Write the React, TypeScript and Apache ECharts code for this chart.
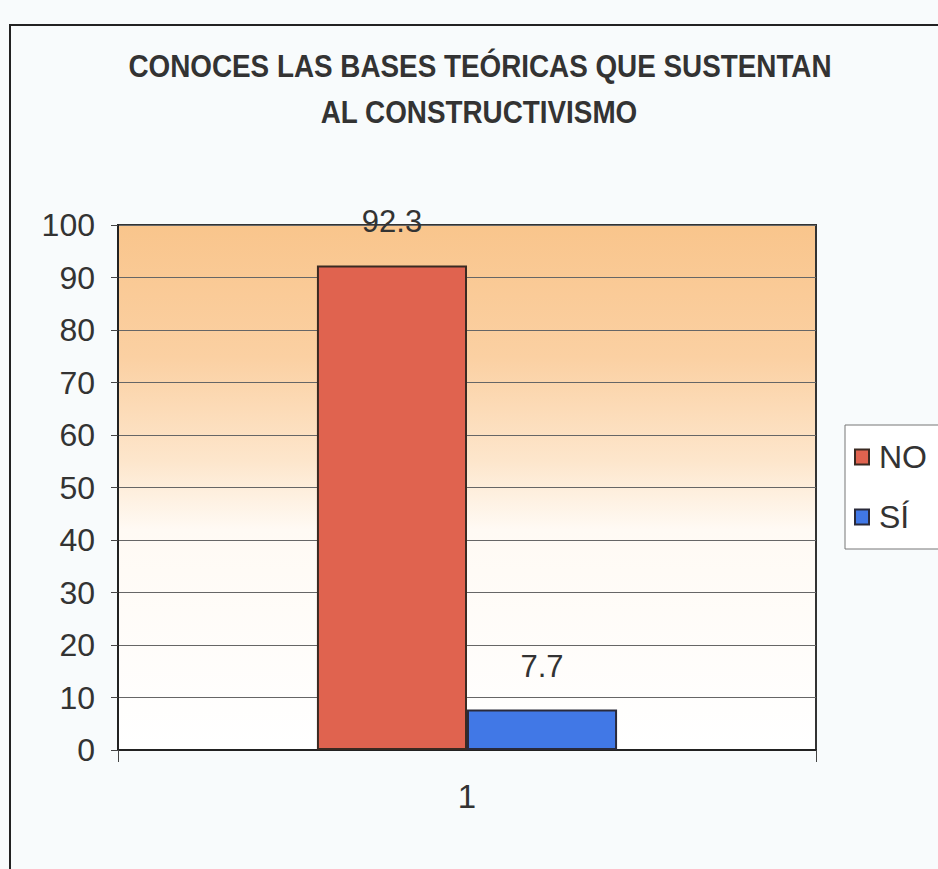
import React, { useEffect, useRef } from "react";
import * as echarts from "echarts";

const categories = ["1"];
const seriesNames = ["NO", "SÍ"];
const noValues = [92.3];
const siValues = [7.7];
const titleLines = ["CONOCES LAS BASES TEÓRICAS QUE SUSTENTAN", "AL CONSTRUCTIVISMO"];

export default function App() {
  const ref = useRef<HTMLDivElement>(null);
  useEffect(() => {
    document.body.style.margin = "0";
    const chart = echarts.init(ref.current!, null, { renderer: "svg" });
    const font = "'Liberation Sans', Arial, sans-serif";
    const labelStyle = {
      show: true,
      position: "top" as const,
      distance: 28,
      fontSize: 31,
      color: "#333",
      fontFamily: font,
    };
    const titleStyle = {
      fill: "#333",
      font: "bold 32px 'Liberation Sans', Arial, sans-serif",
      textAlign: "center",
      textVerticalAlign: "middle",
    };
    chart.setOption({
      animation: false,
      backgroundColor: "#f8fbfc",
      graphic: [
        {
          type: "rect",
          z: -10,
          shape: { x: 10, y: 25, width: 940, height: 860 },
          style: { fill: "none", stroke: "#222", lineWidth: 2 },
        },
        {
          type: "text",
          x: 480,
          y: 66,
          scaleX: 0.87,
          style: { ...titleStyle, text: titleLines[0] },
        },
        {
          type: "text",
          x: 479,
          y: 112,
          scaleX: 0.87,
          style: { ...titleStyle, text: titleLines[1] },
        },
      ],
      legend: {
        orient: "vertical",
        left: 845,
        top: 425,
        data: seriesNames,
        icon: "rect",
        itemWidth: 14,
        itemHeight: 15,
        itemGap: 28,
        padding: [16, 30, 16, 9],
        borderColor: "#777",
        borderWidth: 1,
        backgroundColor: "#ffffff",
        textStyle: {
          fontSize: 32,
          color: "#333",
          fontFamily: font,
          padding: [0, 0, 0, 5],
        },
      },
      grid: {
        left: 118,
        right: 122,
        top: 225,
        bottom: 119,
        show: true,
        borderColor: "#333",
        borderWidth: 2,
        backgroundColor: new echarts.graphic.LinearGradient(0, 0, 0, 1, [
          { offset: 0, color: "#f9c58c" },
          { offset: 0.25, color: "#fbd0a2" },
          { offset: 0.45, color: "#fde6cc" },
          { offset: 0.58, color: "#fffaf4" },
          { offset: 1, color: "#ffffff" },
        ]),
      },
      xAxis: {
        type: "category",
        data: categories,
        axisLine: { show: true, lineStyle: { color: "#222", width: 2 } },
        axisTick: { show: true, length: 12, lineStyle: { color: "#444" } },
        axisLabel: {
          fontSize: 33,
          color: "#333",
          margin: 30,
          fontFamily: font,
        },
      },
      yAxis: {
        type: "value",
        min: 0,
        max: 100,
        interval: 10,
        axisLine: { show: true, lineStyle: { color: "#222", width: 2 } },
        axisTick: { show: true, length: 7, lineStyle: { color: "#444" } },
        axisLabel: {
          fontSize: 32,
          color: "#333",
          margin: 23,
          fontFamily: font,
        },
        splitLine: { show: true, lineStyle: { color: "#666", width: 1 } },
      },
      series: [
        {
          name: seriesNames[0],
          type: "bar",
          data: noValues,
          barGap: "0%",
          barCategoryGap: "57%",
          itemStyle: { color: "#e0634f", borderColor: "#3a2a22", borderWidth: 2 },
          label: labelStyle,
        },
        {
          name: seriesNames[1],
          type: "bar",
          data: siValues,
          itemStyle: { color: "#4178e6", borderColor: "#2a2a3a", borderWidth: 2 },
          label: labelStyle,
        },
      ],
    });
    return () => chart.dispose();
  }, []);
  return <div ref={ref} style={{ width: 938, height: 869 }} />;
}
